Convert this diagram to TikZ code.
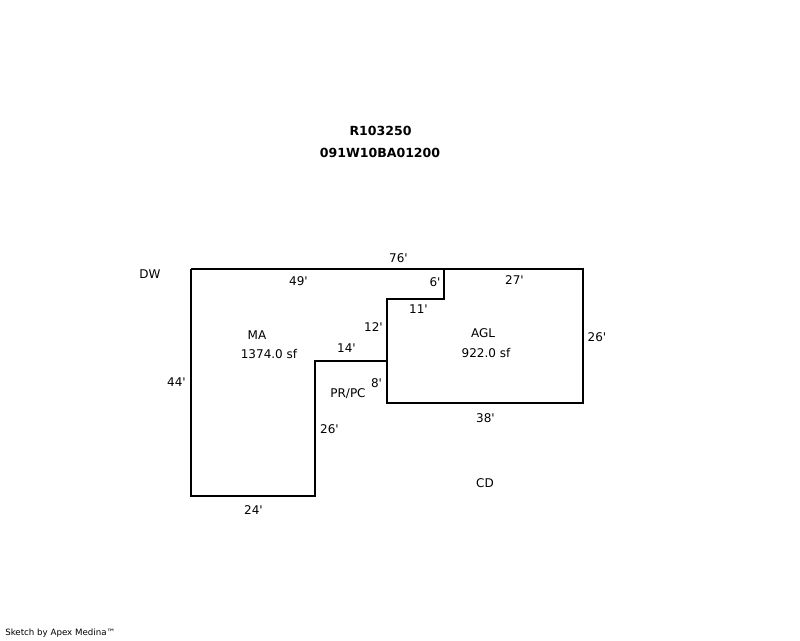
\documentclass[tikz,border=0pt]{standalone}
\usepackage{fontspec}
\setmainfont{DejaVu Sans}[Ligatures=TeXOff]
\begin{document}
\begin{tikzpicture}[x=0.75pt, y=-0.75pt]
    \tikzstyle{wall} = [draw, line width=1.5pt, line join=miter]
    \tikzstyle{dim} = [inner sep=0pt, font=\fontsize{9}{9}\selectfont]
    \tikzstyle{title} = [inner sep=0pt, font=\fontsize{9.4}{9.4}\selectfont\bfseries]
    \tikzstyle{credit} = [inner sep=0pt, anchor=west, font=\fontsize{6.5}{7}\selectfont]

    \useasboundingbox (0,0) rectangle (800,640);

    \draw[wall] (191,269) -- (583,269) -- (583,403) -- (387,403) -- (387,299) -- (444,299) -- (444,269);
    \draw[wall] (191,269) -- (191,495.5) -- (315,495.5) -- (315,361) -- (387,361);

    \node[title] (parcel) at (380.5,131) {R103250};
    \node[title] (mapno) at (380,153) {091W10BA01200};

    \node[dim] (dw) at (150,274) {DW};
    \node[dim] (ma) at (257,335.5) {MA};
    \node[dim] (maarea) at (269,354.5) {1374.0 sf};
    \node[dim] (agl) at (483,333.5) {AGL};
    \node[dim] (aglarea) at (486,353.5) {922.0 sf};
    \node[dim] (prpc) at (348,394) {PR/PC};
    \node[dim] (cd) at (485,483.5) {CD};

    \node[dim] (topall) at (398.5,258) {76'};
    \node[dim] (topma) at (298.5,281) {49'};
    \node[dim] (topagl) at (514.5,280) {27'};
    \node[dim] (notch) at (435,282) {6'};
    \node[dim] (step) at (418.5,309) {11'};
    \node[dim] (inner) at (373.5,327) {12'};
    \node[dim] (porch) at (346.5,348) {14'};
    \node[dim] (porchside) at (376.5,383) {8'};
    \node[dim] (right) at (597,337) {26'};
    \node[dim] (bottom) at (485.5,418) {38'};
    \node[dim] (left) at (176.5,382) {44'};
    \node[dim] (drop) at (329.5,429) {26'};
    \node[dim] (base) at (253.5,510) {24'};

    \node[credit] (sketch) at (5,633) {Sketch by Apex Medina™};
\end{tikzpicture}
\end{document}
